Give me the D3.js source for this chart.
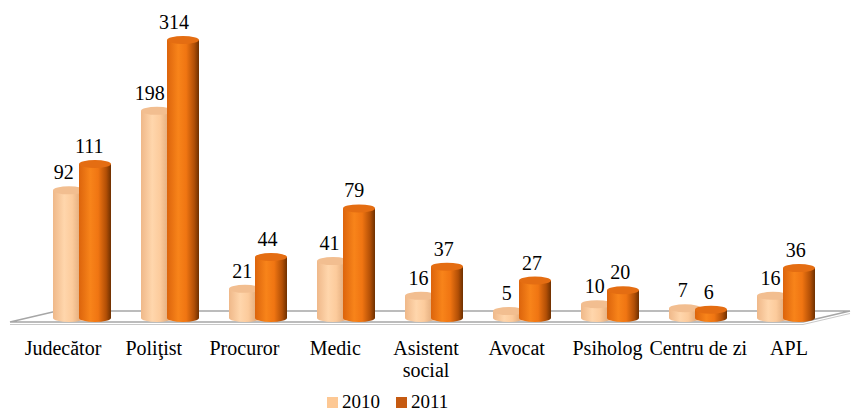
<!DOCTYPE html>
<html>
<head>
<meta charset="utf-8">
<script src="https://cdn.jsdelivr.net/npm/d3@7"></script>
<style>
  body { margin: 0; background: #fff; }
  text { font-family: "Liberation Serif", serif; fill: #000; }
</style>
</head>
<body>
<div id="chart"></div>
<script>
var width = 852;
var height = 412;

var categories = ["Judecător", "Poliţist", "Procuror", "Medic", "Asistent social", "Avocat", "Psiholog", "Centru de zi", "APL"];
var series = ["2010", "2011"];
var values2010 = [92, 198, 21, 41, 16, 5, 10, 7, 16];
var values2011 = [111, 314, 44, 79, 37, 27, 20, 6, 36];

var baseY = 318;
var rx = 16, ry = 4;

var svg = d3.select("#chart").append("svg")
  .attr("width", width)
  .attr("height", height);

var defs = svg.append("defs");
function grad(id, stops) {
  var g = defs.append("linearGradient").attr("id", id)
    .attr("x1", 0).attr("x2", 1).attr("y1", 0).attr("y2", 0);
  stops.forEach(function(s) {
    g.append("stop").attr("offset", s[0]).attr("stop-color", s[1]);
  });
}
grad("g2010", [[0, "#efb889"], [0.35, "#ffd6ac"], [0.6, "#fccb9c"], [0.85, "#e3ad7e"], [1, "#c48e60"]]);
grad("g2011", [[0, "#dc640c"], [0.35, "#f8841a"], [0.6, "#f07512"], [0.85, "#b24f06"], [1, "#6e3000"]]);

// bar group centres (middle of floor) and label positions (front edge)
var xBars = d3.scalePoint().domain(categories).range([82, 786]);
var xLabels = d3.scalePoint().domain(categories).range([63, 789]);

// the picture compresses the tallest group, so the height scale is polylinear
var h = d3.scaleLinear().domain([0, 111, 314]).range([0, 154, 278]);

// floor
var floor = svg.append("g");
floor.append("polygon")
  .attr("points", [[10, 322], [803, 322], [850, 311], [57, 311]].join(" "))
  .attr("fill", "#fff")
  .attr("stroke", "#a6a6a6")
  .attr("stroke-width", 1.5);
floor.append("path")
  .attr("d", "M10,324.5 L803,324.5 L850,313.5")
  .attr("fill", "none")
  .attr("stroke", "#c8c8c8")
  .attr("stroke-width", 1);

function cylinder(g, cx, v, fill, topFill) {
  var top = baseY - h(v);
  var x0 = cx - rx, x1 = cx + rx;
  g.append("path")
    .attr("d", "M" + x0 + "," + top + " L" + x0 + "," + baseY +
      " A" + rx + "," + ry + " 0 0 0 " + x1 + "," + baseY +
      " L" + x1 + "," + top + " Z")
    .attr("fill", fill);
  g.append("ellipse")
    .attr("cx", cx).attr("cy", top)
    .attr("rx", rx).attr("ry", ry)
    .attr("fill", topFill);
  return top;
}

var bars = svg.append("g");
categories.forEach(function(c, i) {
  var gx = xBars(c);
  var data = [
    { v: values2010[i], cx: gx - 13, fill: "url(#g2010)", top: "#f2be90" },
    { v: values2011[i], cx: gx + 13, fill: "url(#g2011)", top: "#e46d12" }
  ];
  data.forEach(function(d) {
    var top = cylinder(bars, d.cx, d.v, d.fill, d.top);
    bars.append("text")
      .attr("x", d.cx - 2 - h(d.v) * 0.025)
      .attr("y", top - 11)
      .attr("text-anchor", "middle")
      .style("font-size", "20px")
      .text(d.v);
  });
});

// category labels
svg.append("g").selectAll("text")
  .data(categories)
  .enter().append("text")
  .attr("x", function(d) { return xLabels(d); })
  .attr("y", 355)
  .attr("text-anchor", "middle")
  .style("font-size", "20px")
  .each(function(d) {
    var t = d3.select(this);
    var parts = d === "Asistent social" ? ["Asistent", "social"] : [d];
    parts.forEach(function(p, k) {
      t.append("tspan").attr("x", xLabels(d)).attr("dy", k === 0 ? 0 : 22).text(p);
    });
  });

// legend
var legendColors = ["#fdc894", "#c55a11"];
var legend = svg.append("g");
var lx = [327, 396];
series.forEach(function(s, i) {
  legend.append("rect")
    .attr("x", lx[i]).attr("y", 397)
    .attr("width", 11).attr("height", 11)
    .attr("fill", legendColors[i]);
  legend.append("text")
    .attr("x", lx[i] + 15).attr("y", 408)
    .style("font-size", "19px")
    .text(s);
});
</script>
</body>
</html>
